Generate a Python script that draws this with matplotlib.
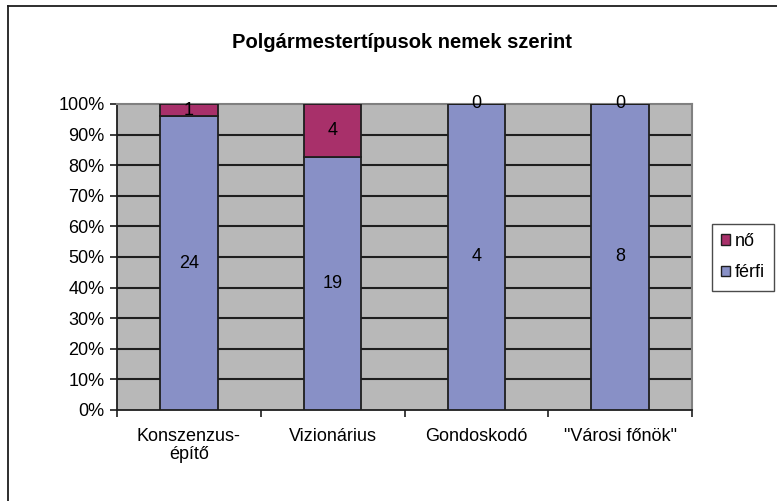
import numpy as np
import matplotlib.pyplot as plt
from matplotlib.patches import Patch
from matplotlib.lines import Line2D

plt.rcParams['font.family'] = ['Liberation Sans', 'DejaVu Sans']

categories = ['Konszenzus-\népítő', 'Vizionárius', 'Gondoskodó', '"Városi főnök"']
ferfi = [24, 19, 4, 8]
no = [1, 4, 0, 0]
series_names = ['nő', 'férfi']
title = 'Polgármestertípusok nemek szerint'

c_ferfi = '#8890c6'
c_no = '#a8306a'
edge = '#1e1e1e'

ferfi_a = np.array(ferfi, dtype=float)
no_a = np.array(no, dtype=float)
total = ferfi_a + no_a
p_ferfi = ferfi_a / total * 100
p_no = no_a / total * 100

W, H = 777, 501
fig = plt.figure(figsize=(W / 100, H / 100), dpi=100)
ax = fig.add_axes([117 / W, 1 - 410 / H, (692 - 117) / W, (410 - 104) / H])
ax.set_facecolor('#b8b8b8')

x = np.arange(len(categories))
ax.bar(x, p_ferfi, width=0.4, color=c_ferfi, edgecolor=edge, linewidth=1.3, zorder=3)
ax.bar(x, p_no, width=0.4, bottom=p_ferfi, color=c_no, edgecolor=edge, linewidth=1.3, zorder=3)

for i in range(len(categories)):
    ax.text(x[i], p_ferfi[i] / 2, str(ferfi[i]), ha='center', va='center', fontsize=13, zorder=4)
    ax.text(x[i], p_ferfi[i] + p_no[i] / 2, str(no[i]), ha='center', va='center', fontsize=13, zorder=4)

ax.set_xlim(-0.5, len(categories) - 0.5)
ax.set_ylim(0, 100)
ax.set_yticks(np.arange(0, 101, 10))
ax.set_yticklabels([f'{v}%' for v in range(0, 101, 10)], fontsize=13)
ax.set_xticks(x)
ax.set_xticklabels(categories, fontsize=13, linespacing=1.05)
ax.set_xticks(np.arange(-0.5, len(categories), 1.0), minor=True)
ax.tick_params(axis='x', which='major', length=0, pad=13)
ax.tick_params(axis='x', which='minor', length=5, width=1.2, direction='out', color='#1e1e1e')
ax.tick_params(axis='y', length=5, width=1.2, direction='out', pad=4, color='#1e1e1e')

for v in range(10, 100, 10):
    ax.axhline(v, color='#1e1e1e', linewidth=1.5, zorder=1)

ax.spines['left'].set_color('#1e1e1e')
ax.spines['left'].set_linewidth(1.3)
ax.spines['bottom'].set_color('#1e1e1e')
ax.spines['bottom'].set_linewidth(1.3)
ax.spines['top'].set_color('#808080')
ax.spines['top'].set_linewidth(1.5)
ax.spines['right'].set_color('#808080')
ax.spines['right'].set_linewidth(1.5)

fig.text(402 / W, 1 - 42 / H, title, ha='center', va='center', fontsize=14.5, fontweight='bold')

handles = [Patch(facecolor=c_no, edgecolor=edge, linewidth=1.0),
           Patch(facecolor=c_ferfi, edgecolor=edge, linewidth=1.0)]
leg = fig.legend(handles, series_names, loc='upper left',
                 bbox_to_anchor=(712 / W, 1 - 224 / H), borderaxespad=0, fontsize=13,
                 handlelength=0.5, handleheight=0.5, handletextpad=0.25,
                 labelspacing=0.8, borderpad=0.5, fancybox=False, frameon=True)
leg.get_frame().set_edgecolor('#1e1e1e')
leg.get_frame().set_linewidth(1.0)

# outer chart border (cut off at right and bottom)
fig.add_artist(Line2D([8 / W, 8 / W], [0, 1 - 6 / H], color='#1e1e1e', linewidth=1.3))
fig.add_artist(Line2D([8 / W, 1], [1 - 6 / H, 1 - 6 / H], color='#1e1e1e', linewidth=1.3))

fig.savefig('out.png', dpi=100)
